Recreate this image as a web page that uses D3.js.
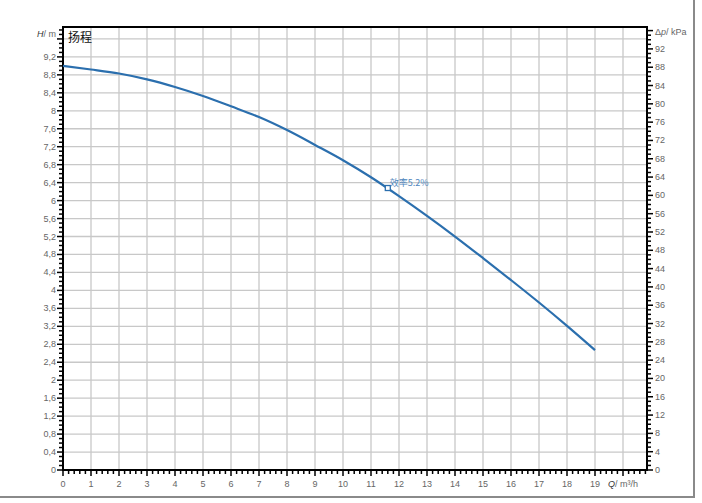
<!DOCTYPE html>
<html><head><meta charset="utf-8">
<script src="https://cdn.jsdelivr.net/npm/d3@7"></script>
<style>body{margin:0;background:#fff;} svg{display:block;font-family:"Liberation Sans",Arial,sans-serif;}</style>
</head><body>
<svg id="c" width="702" height="503"></svg>
<script>
const flowQ = [0,1,2,3,4,5,6,7,8,9,10,11,12,13,14,15,16,17,18,19];
const headH = [9.00,8.92,8.83,8.70,8.53,8.33,8.10,7.86,7.57,7.24,6.90,6.52,6.10,5.66,5.20,4.72,4.23,3.73,3.21,2.67];
const xTickLabels = ["0","1","2","3","4","5","6","7","8","9","10","11","12","13","14","15","16","17","18","19"];
const yTickValues = [0,0.4,0.8,1.2,1.6,2,2.4,2.8,3.2,3.6,4,4.4,4.8,5.2,5.6,6,6.4,6.8,7.2,7.6,8,8.4,8.8,9.2];
const kpaTickValues = [0,4,8,12,16,20,24,28,32,36,40,44,48,52,56,60,64,68,72,76,80,84,88,92];
const dutyPoint = {q:11.6, h:6.28, label:"效率5.2%"};
const curveTitle = "扬程";

const svg = d3.select("#c");
const L=63,R=647,T=27,B=470;
const x = d3.scaleLinear().domain([0,20.857]).range([L,R]);
const y = d3.scaleLinear().domain([0,9.866]).range([B,T]);
const yk = d3.scaleLinear().domain([0,9.866*9.81]).range([B,T]);
const fmt = v => String(+v.toFixed(1)).replace(".",",");

// outer border
svg.append("line").attr("x1",0).attr("x2",695).attr("y1",497).attr("y2",497).attr("stroke","#8a8a8a").attr("stroke-width",2);
svg.append("line").attr("x1",694).attr("x2",694).attr("y1",0).attr("y2",498).attr("stroke","#8a8a8a").attr("stroke-width",2);

// grid
const g = svg.append("g");
g.selectAll("line.v").data(d3.range(1,21)).join("line")
  .attr("x1",d=>x(d)).attr("x2",d=>x(d)).attr("y1",T).attr("y2",B)
  .attr("stroke","#c8c8c8").attr("stroke-width",1.3);
g.selectAll("line.h").data(yTickValues.concat([9.6]).filter(d=>d>0)).join("line")
  .attr("x1",L).attr("x2",R).attr("y1",d=>y(d)).attr("y2",d=>y(d))
  .attr("stroke","#c8c8c8").attr("stroke-width",1.3);

// minor ticks
const tk = svg.append("g").attr("stroke","#000").attr("stroke-width",1.5);
d3.range(0,20.86,0.2).forEach(v=>{
  const major = Math.abs(v-Math.round(v))<1e-6;
  tk.append("line").attr("x1",x(v)).attr("x2",x(v)).attr("y1",B).attr("y2",B+(major?6:4));
});
d3.range(0,9.85,0.1).forEach(v=>{
  const major = Math.abs(v/0.4-Math.round(v/0.4))<1e-6;
  tk.append("line").attr("x1",L).attr("x2",L-(major?6:4)).attr("y1",y(v)).attr("y2",y(v));
});
d3.range(0,96.5,1).forEach(v=>{
  const major = v%4===0;
  tk.append("line").attr("x1",R).attr("x2",R+(major?6:4)).attr("y1",yk(v)).attr("y2",yk(v));
});

// frame
svg.append("rect").attr("x",L).attr("y",T).attr("width",R-L).attr("height",B-T)
  .attr("fill","none").attr("stroke","#000").attr("stroke-width",2);

// labels
const lab = svg.append("g").attr("fill","#666").attr("font-size",9);
lab.selectAll("text.x").data(flowQ).join("text")
  .attr("x",d=>x(d)).attr("y",B+17).attr("text-anchor","middle").text((d,i)=>xTickLabels[i]);
lab.selectAll("text.y").data(yTickValues).join("text")
  .attr("x",L-7).attr("y",d=>y(d)+3).attr("text-anchor","end").text(d=>fmt(d));
lab.selectAll("text.k").data(kpaTickValues).join("text")
  .attr("x",R+8).attr("y",d=>yk(d)+3).attr("text-anchor","start").text(d=>d);

const qt = lab.append("text").attr("x",x(20)).attr("y",B+17).attr("text-anchor","middle");
qt.append("tspan").attr("font-style","italic").attr("fill","#333").text("Q");
qt.append("tspan").text("/ m³/h");
const ht = lab.append("text").attr("x",L-7).attr("y",y(9.6)-2).attr("text-anchor","end");
ht.append("tspan").attr("font-style","italic").attr("fill","#333").text("H");
ht.append("tspan").text("/ m");
const pt = lab.append("text").attr("x",R+8).attr("y",yk(96)+4).attr("text-anchor","start");
pt.append("tspan").text("Δ");
pt.append("tspan").attr("font-style","italic").text("p");
pt.append("tspan").text("/ kPa");

svg.append("text").attr("x",L+5).attr("y",T+15).attr("font-size",12).attr("fill","#111")
  .attr("font-family","'Noto Sans CJK SC',sans-serif").text(curveTitle);

// curve
const line = d3.line().x((d,i)=>x(flowQ[i])).y(d=>y(d)).curve(d3.curveMonotoneX);
svg.append("path").datum(headH).attr("d",line).attr("fill","none")
  .attr("stroke","#2b6fae").attr("stroke-width",2.2);

// duty point
svg.append("rect").attr("x",x(dutyPoint.q)-2.5).attr("y",y(dutyPoint.h)-2.5).attr("width",5).attr("height",5)
  .attr("fill","#fff").attr("stroke","#2b6fae").attr("stroke-width",1.3);
svg.append("text").attr("x",x(dutyPoint.q)+2).attr("y",y(dutyPoint.h)-2).attr("font-size",9)
  .attr("fill","#4f86bd").attr("font-family","'Noto Sans CJK SC',sans-serif").text(dutyPoint.label);
</script>
</body></html>
